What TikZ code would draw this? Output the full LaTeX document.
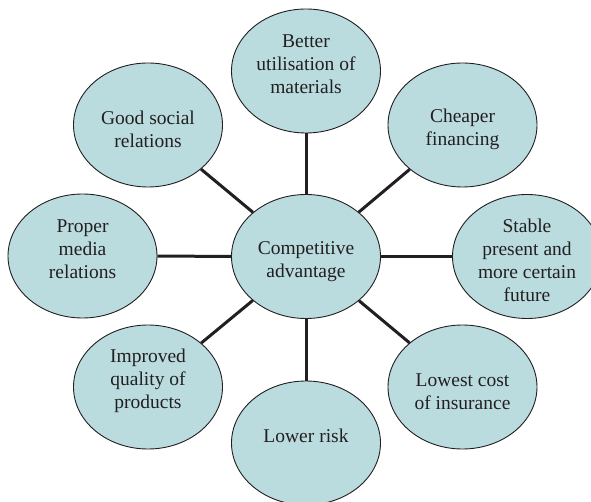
\documentclass[tikz,border=0pt]{standalone}
\usepackage{fontspec}
\setmainfont{Liberation Serif}
\usetikzlibrary{shapes.geometric}
\definecolor{bubble}{RGB}{186,220,223}
\definecolor{ink}{RGB}{35,31,32}
\begin{document}
\begin{tikzpicture}[x=1pt,y=-1pt,
  bubble/.style={ellipse, draw=ink, line width=0.9pt, fill=bubble,
    minimum width=149pt, minimum height=124pt, inner sep=0pt},
  caption/.style={align=center, inner sep=0pt,
    font=\fontsize{19.5}{23}\selectfont, text=ink},
  spoke/.style={line width=3pt, draw=ink}]
  \useasboundingbox (0,0) rectangle (591,502);
  % bubbles
  \node[bubble] (c)  at (306,256.5) {};
  \node[bubble] (n)  at (306,71)    {};
  \node[bubble] (ne) at (462.5,125) {};
  \node[bubble] (e)  at (527,256.5) {};
  \node[bubble] (se) at (462.5,387) {};
  \node[bubble] (s)  at (306,443)   {};
  \node[bubble] (sw) at (148,387)   {};
  \node[bubble] (w)  at (82.5,256)  {};
  \node[bubble] (nw) at (148,125)   {};
  % spokes from the hub to each bubble
  \foreach \t in {n,ne,e,se,s,sw,w,nw}
    \draw[spoke] (c) -- (\t);
  % captions
  \node[caption] (c-t)  at ([yshift=-5pt]c.center)  {Competitive\\advantage};
  \node[caption] (n-t)  at ([yshift=7pt]n.center)   {Better\\utilisation of\\materials};
  \node[caption] (ne-t) at ([yshift=-4pt]ne.center) {Cheaper\\financing};
  \node[caption] (e-t)  at ([yshift=-4pt]e.center)  {Stable\\present and\\more certain\\future};
  \node[caption] (se-t) at ([yshift=-5pt]se.center) {Lowest cost\\of insurance};
  \node[caption] (s-t)  at ([yshift=7pt]s.center)   {Lower risk};
  \node[caption] (sw-t) at ([yshift=6pt]sw.center)  {Improved\\quality of\\products};
  \node[caption] (w-t)  at ([yshift=7pt]w.center)   {Proper\\media\\relations};
  \node[caption] (nw-t) at ([yshift=-4pt]nw.center) {Good social\\relations};
\end{tikzpicture}
\end{document}
